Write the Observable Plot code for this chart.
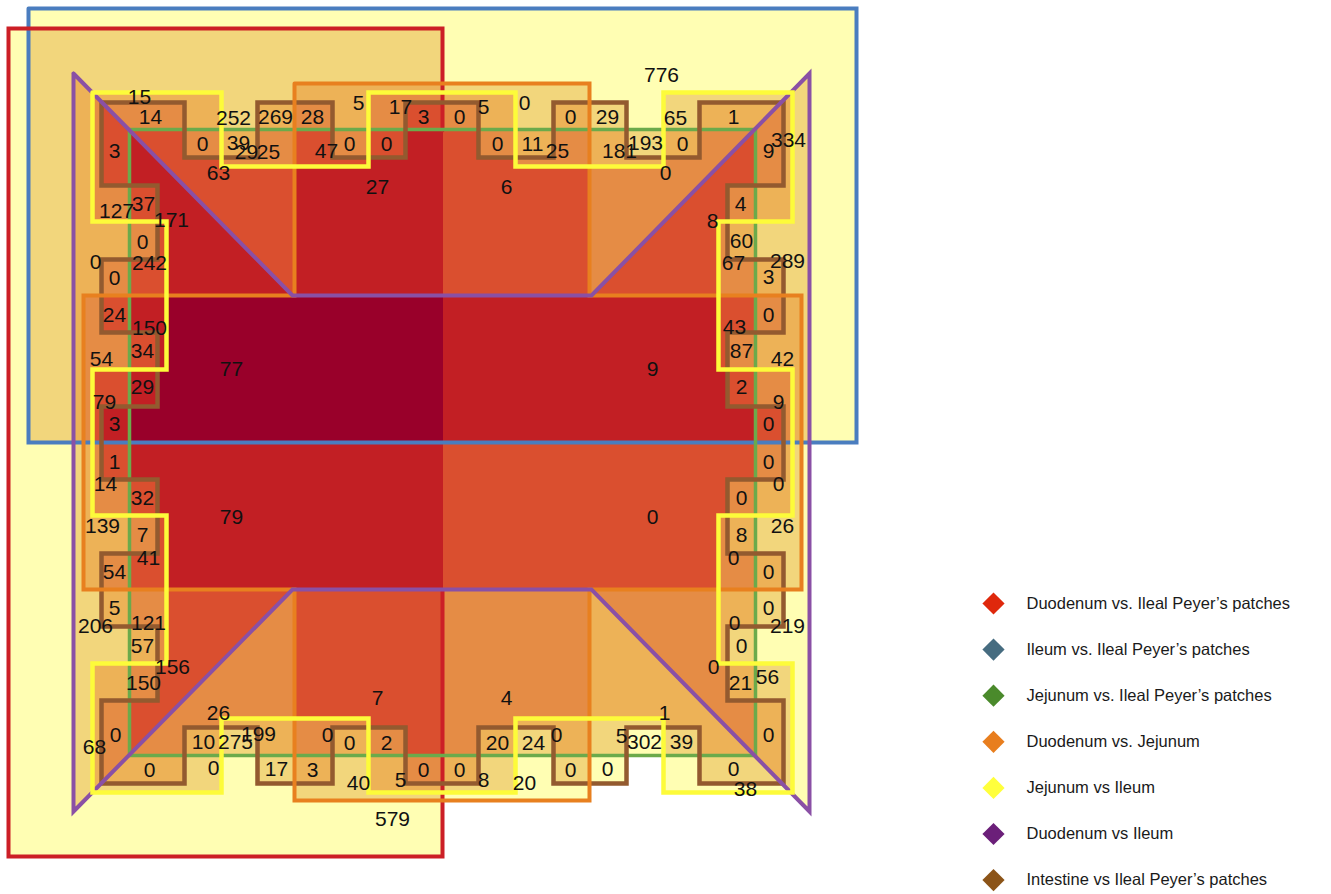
<!DOCTYPE html>
<html>
<head>
<meta charset="utf-8">
<script src="https://cdn.jsdelivr.net/npm/d3@7"></script>
<script src="https://cdn.jsdelivr.net/npm/@observablehq/plot@0.6"></script>
<style>
  html, body { margin: 0; padding: 0; background: #ffffff; }
  #chart svg { display: block; }
</style>
</head>
<body>
<div id="chart"></div>
<script>
// ---- Sets (legend order) ----
const setNames = [
  "Duodenum vs. Ileal Peyer\u2019s patches",
  "Ileum vs. Ileal Peyer\u2019s patches",
  "Jejunum vs. Ileal Peyer\u2019s patches",
  "Duodenum vs. Jejunum",
  "Jejunum vs Ileum",
  "Duodenum vs Ileum",
  "Intestine vs Ileal Peyer\u2019s patches"
];
const legendColors = ["#DF280C", "#466C80", "#4A8A2B", "#E87E1E", "#FFFF3C", "#6B1F79", "#8C5418"];
const outlineColors = ["#CC1F26", "#4A7DBF", "#6BAA4B", "#E8801F", "#FDFB3A", "#8A50A5", "#935A2F"];

// ---- Set shapes (diagram units) ----
const duodenumIleal = [[8,28],[442,28],[442,856],[8,856]];
const ileumIleal = [[28,8],[856,8],[856,442],[28,442]];
const jejunumIleal = [[129,129],[755,129],[755,755],[129,755]];
const duodenumJejunum = [[294,83],[589,83],[589,295],[801,295],[801,589],[589,589],[589,800],[294,800],[294,589],[83,589],[83,295],[294,295]];
const jejunumIleum = [[92,92],[221,92],[221,166],[368,166],[368,92],[515,92],[515,166],[663,166],[663,92],[792,92],
  [792,221],[718,221],[718,369],[792,369],[792,515],[718,515],[718,663],[792,663],[792,792],
  [663,792],[663,718],[515,718],[515,792],[368,792],[368,718],[221,718],[221,792],[92,792],
  [92,663],[166,663],[166,515],[92,515],[92,369],[166,369],[166,221],[92,221]];
const duodenumIleum = [[73,73],[292,295],[591,295],[809,73],[809,811],[591,589],[292,589],[73,811]];
const intestineIleal = [[101,102],[184,102],[184,157],[257,157],[257,102],[332,102],[332,157],[405,157],[405,102],
  [478,102],[478,157],[553,157],[553,102],[626,102],[626,157],[699,157],[699,102],[783,102],
  [783,185],[727,185],[727,259],[783,259],[783,332],[727,332],[727,406],[783,406],[783,479],
  [727,479],[727,553],[783,553],[783,626],[727,626],[727,700],[783,700],[783,783],
  [699,783],[699,727],[626,727],[626,783],[553,783],[553,727],[478,727],[478,783],[405,783],
  [405,727],[332,727],[332,783],[257,783],[257,727],[184,727],[184,783],[101,783],
  [101,700],[157,700],[157,626],[101,626],[101,553],[157,553],[157,479],[101,479],[101,406],
  [157,406],[157,332],[101,332],[101,259],[157,259],[157,185],[101,185]];
const sets = [duodenumIleal, ileumIleal, jejunumIleal, duodenumJejunum, jejunumIleum, duodenumIleum, intestineIleal];
// the red outline is drawn open where the original artwork hides it
const duodenumIlealOutline = [[442,130],[442,28],[8,28],[8,856],[442,856],[442,590]];

// fill colour by number of overlapping sets (0..7)
const overlapColors = ["#FFFFFF", "#FFFEB3", "#F2D67C", "#EDB257", "#E58C45", "#DA4F2F", "#C21F24", "#99002A"];

// ---- Region counts and their label anchors ----
const regionCounts = [
  15,14,252,269,28,5,17,3,0,5,0,0,29,65,1,776,
  0,39,29,25,47,0,0,0,11,25,181,193,0,63,0,27,6,
  3,127,37,171,0,0,242,0,24,150,34,54,77,29,79,3,1,14,32,79,139,7,41,54,5,206,121,57,156,150,0,68,
  9,334,4,8,60,67,289,3,0,43,87,42,9,2,9,0,0,0,0,0,26,8,0,0,0,0,219,0,0,21,56,0,
  26,10,275,199,0,0,2,20,24,0,1,5,302,39,7,4,
  0,0,17,3,40,5,0,0,8,20,0,0,0,38,579
];
const regionAnchors = [
  [139,97],[150,117],[233,118],[275,117],[312,117],[358,103],[400,107],[423,117],[459,117],[483,107],[524,103],[570,117],[607,117],[675,118],[733,117],[661,75],
  [202,144],[238,143],[246,152],[268,152],[326,151],[349,144],[386,144],[497,144],[532,144],[557,151],[619,151],[645,143],[682,144],[218,173],[665,173],[377,187],[506,187],
  [114,151],[116,211],[143,204],[171,220],[142,242],[95,262],[149,263],[114,278],[114,315],[149,328],[142,351],[101,359],[231,369],[142,387],[104,402],[114,424],[114,462],[105,484],[142,498],[231,517],[102,526],[142,535],[148,558],[114,572],[114,608],[95,626],[148,623],[142,646],[172,667],[143,683],[115,735],[94,747],
  [768,151],[788,140],[740,204],[712,221],[741,241],[733,263],[787,261],[768,277],[768,315],[734,327],[741,351],[782,359],[652,369],[741,387],[778,402],[768,424],[768,462],[778,484],[741,498],[652,517],[782,526],[741,535],[733,558],[768,572],[768,608],[734,623],[787,626],[741,646],[713,667],[740,683],[767,677],[768,735],
  [218,713],[203,742],[235,742],[258,734],[327,735],[349,743],[386,743],[497,743],[533,743],[556,735],[664,713],[621,736],[644,742],[681,742],[377,698],[506,698],
  [149,770],[213,768],[276,769],[312,770],[358,783],[400,780],[423,770],[459,770],[483,780],[524,783],[570,770],[607,769],[733,769],[745,789],[392,819]
];

// ---- helpers ----
const W = 1331, H = 894;
const font = "'Liberation Sans', Arial, Helvetica, sans-serif";
const closed = (pts) => pts.concat([pts[0]]);
function overlapDegree(x, y) {
  let n = 0;
  for (const s of sets) if (d3.polygonContains(s, [x, y])) n++;
  return n;
}
const outline = (pts, color, width) => Plot.line(pts, {
  x: d => d[0], y: d => d[1], stroke: color, strokeWidth: width,
  strokeLinejoin: "miter", strokeMiterlimit: 10, curve: "linear"
});

const legendX = 993, legendTextX = 1026, legendTop = 603, legendStep = 46.1;

const marks = [
  Plot.raster({
    x1: 0, x2: 870, y1: 0, y2: 870, width: 870, height: 870,
    fill: (x, y) => overlapDegree(x, y),
    imageRendering: "pixelated"
  }),
  outline(closed(ileumIleal), outlineColors[1], 4),
  outline(duodenumIlealOutline, outlineColors[0], 4),
  outline(closed(jejunumIleal), outlineColors[2], 3.5),
  outline(closed(intestineIleal), outlineColors[6], 4.5),
  outline(closed(duodenumJejunum), outlineColors[3], 4),
  outline(closed(duodenumIleum), outlineColors[5], 4),
  outline(closed(jejunumIleum), outlineColors[4], 4.5),
  Plot.text(regionCounts, {
    x: (d, i) => regionAnchors[i][0],
    y: (d, i) => regionAnchors[i][1],
    text: d => String(d),
    fontSize: 21, fontFamily: font, fill: "#111"
  }),
  ...setNames.map((name, i) => Plot.dot([name], {
    x: legendX, y: legendTop + i * legendStep,
    symbol: "diamond2", r: 10, fill: legendColors[i], stroke: "none"
  })),
  Plot.text(setNames, {
    x: legendTextX, y: (d, i) => legendTop + i * legendStep,
    text: d => d, textAnchor: "start",
    fontSize: 16.5, fontFamily: font, fill: "#1a1a1a"
  })
];

const chart = Plot.plot({
  width: W, height: H,
  margin: 0,
  x: {domain: [0, W], range: [0, W], axis: null},
  y: {domain: [0, H], range: [0, H], axis: null},
  color: {type: "ordinal", domain: d3.range(8), range: overlapColors},
  style: {background: "#ffffff", fontFamily: font},
  marks
});
document.getElementById("chart").appendChild(chart);
</script>
</body>
</html>
